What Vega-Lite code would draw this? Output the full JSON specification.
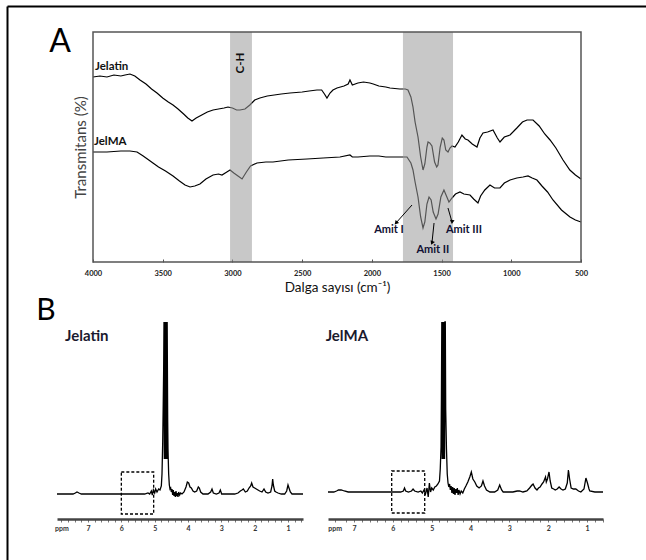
{
"$schema": "https://vega.github.io/schema/vega-lite/v6.json",
"width": 646, "height": 560, "padding": 0, "autosize": {"type": "none"},
"background": "white",
"config": {"view": {"stroke": null}, "font": "Lato", "axis": {"grid": false}},
"datasets": {
"frame": [{"fx": 0, "fy": 0}, {"fx": 1, "fy": 1}],
"ftir": [
{"sample":"Jelatin","wn":4000,"T":185},{"sample":"Jelatin","wn":3950,"T":186},{"sample":"Jelatin","wn":3900,"T":185},{"sample":"Jelatin","wn":3850,"T":187},{"sample":"Jelatin","wn":3800,"T":186},{"sample":"Jelatin","wn":3770,"T":187},{"sample":"Jelatin","wn":3735,"T":188},{"sample":"Jelatin","wn":3700,"T":186},{"sample":"Jelatin","wn":3663,"T":182},{"sample":"Jelatin","wn":3620,"T":178},{"sample":"Jelatin","wn":3580,"T":173},{"sample":"Jelatin","wn":3541,"T":169},{"sample":"Jelatin","wn":3500,"T":164},{"sample":"Jelatin","wn":3460,"T":160},{"sample":"Jelatin","wn":3426,"T":157},{"sample":"Jelatin","wn":3390,"T":153},{"sample":"Jelatin","wn":3350,"T":148},{"sample":"Jelatin","wn":3320,"T":144},{"sample":"Jelatin","wn":3290,"T":141},{"sample":"Jelatin","wn":3260,"T":144},{"sample":"Jelatin","wn":3220,"T":147},{"sample":"Jelatin","wn":3180,"T":150},{"sample":"Jelatin","wn":3139,"T":152},{"sample":"Jelatin","wn":3100,"T":153},{"sample":"Jelatin","wn":3060,"T":154},{"sample":"Jelatin","wn":3032,"T":155},{"sample":"Jelatin","wn":3000,"T":154},{"sample":"Jelatin","wn":2970,"T":152},{"sample":"Jelatin","wn":2946,"T":152},{"sample":"Jelatin","wn":2910,"T":153},{"sample":"Jelatin","wn":2875,"T":157},{"sample":"Jelatin","wn":2840,"T":162},{"sample":"Jelatin","wn":2803,"T":164},{"sample":"Jelatin","wn":2750,"T":166},{"sample":"Jelatin","wn":2700,"T":167},{"sample":"Jelatin","wn":2650,"T":168},{"sample":"Jelatin","wn":2587,"T":169},{"sample":"Jelatin","wn":2500,"T":170},{"sample":"Jelatin","wn":2450,"T":171},{"sample":"Jelatin","wn":2394,"T":172},{"sample":"Jelatin","wn":2360,"T":172},{"sample":"Jelatin","wn":2340,"T":168},{"sample":"Jelatin","wn":2322,"T":164},{"sample":"Jelatin","wn":2300,"T":169},{"sample":"Jelatin","wn":2279,"T":172},{"sample":"Jelatin","wn":2250,"T":174},{"sample":"Jelatin","wn":2200,"T":176},{"sample":"Jelatin","wn":2170,"T":178},{"sample":"Jelatin","wn":2157,"T":182},{"sample":"Jelatin","wn":2140,"T":177},{"sample":"Jelatin","wn":2100,"T":179},{"sample":"Jelatin","wn":2060,"T":180},{"sample":"Jelatin","wn":2014,"T":179},{"sample":"Jelatin","wn":1990,"T":178},{"sample":"Jelatin","wn":1950,"T":176},{"sample":"Jelatin","wn":1900,"T":175},{"sample":"Jelatin","wn":1870,"T":174},{"sample":"Jelatin","wn":1800,"T":173},{"sample":"Jelatin","wn":1760,"T":173},{"sample":"Jelatin","wn":1741,"T":172},{"sample":"Jelatin","wn":1720,"T":165},{"sample":"Jelatin","wn":1705,"T":155},{"sample":"Jelatin","wn":1690,"T":140},{"sample":"Jelatin","wn":1669,"T":125},{"sample":"Jelatin","wn":1650,"T":105},{"sample":"Jelatin","wn":1633,"T":92},{"sample":"Jelatin","wn":1620,"T":98},{"sample":"Jelatin","wn":1605,"T":115},{"sample":"Jelatin","wn":1597,"T":120},{"sample":"Jelatin","wn":1585,"T":119},{"sample":"Jelatin","wn":1569,"T":116},{"sample":"Jelatin","wn":1550,"T":100},{"sample":"Jelatin","wn":1535,"T":95},{"sample":"Jelatin","wn":1526,"T":97},{"sample":"Jelatin","wn":1510,"T":115},{"sample":"Jelatin","wn":1495,"T":124},{"sample":"Jelatin","wn":1483,"T":122},{"sample":"Jelatin","wn":1470,"T":112},{"sample":"Jelatin","wn":1454,"T":110},{"sample":"Jelatin","wn":1440,"T":114},{"sample":"Jelatin","wn":1425,"T":116},{"sample":"Jelatin","wn":1404,"T":115},{"sample":"Jelatin","wn":1380,"T":120},{"sample":"Jelatin","wn":1354,"T":127},{"sample":"Jelatin","wn":1330,"T":123},{"sample":"Jelatin","wn":1311,"T":122},{"sample":"Jelatin","wn":1280,"T":118},{"sample":"Jelatin","wn":1246,"T":115},{"sample":"Jelatin","wn":1225,"T":124},{"sample":"Jelatin","wn":1203,"T":129},{"sample":"Jelatin","wn":1170,"T":130},{"sample":"Jelatin","wn":1131,"T":132},{"sample":"Jelatin","wn":1100,"T":124},{"sample":"Jelatin","wn":1081,"T":120},{"sample":"Jelatin","wn":1050,"T":125},{"sample":"Jelatin","wn":1009,"T":127},{"sample":"Jelatin","wn":960,"T":134},{"sample":"Jelatin","wn":920,"T":140},{"sample":"Jelatin","wn":887,"T":142},{"sample":"Jelatin","wn":844,"T":142},{"sample":"Jelatin","wn":800,"T":136},{"sample":"Jelatin","wn":760,"T":128},{"sample":"Jelatin","wn":722,"T":122},{"sample":"Jelatin","wn":680,"T":114},{"sample":"Jelatin","wn":629,"T":102},{"sample":"Jelatin","wn":580,"T":92},{"sample":"Jelatin","wn":540,"T":87},{"sample":"Jelatin","wn":500,"T":83},
{"sample":"JelMA","wn":4000,"T":110},{"sample":"JelMA","wn":3900,"T":110},{"sample":"JelMA","wn":3800,"T":111},{"sample":"JelMA","wn":3735,"T":111},{"sample":"JelMA","wn":3684,"T":110},{"sample":"JelMA","wn":3640,"T":106},{"sample":"JelMA","wn":3600,"T":102},{"sample":"JelMA","wn":3570,"T":99},{"sample":"JelMA","wn":3530,"T":95},{"sample":"JelMA","wn":3480,"T":91},{"sample":"JelMA","wn":3426,"T":86},{"sample":"JelMA","wn":3380,"T":81},{"sample":"JelMA","wn":3340,"T":77},{"sample":"JelMA","wn":3304,"T":75},{"sample":"JelMA","wn":3270,"T":76},{"sample":"JelMA","wn":3233,"T":78},{"sample":"JelMA","wn":3190,"T":83},{"sample":"JelMA","wn":3139,"T":87},{"sample":"JelMA","wn":3100,"T":88},{"sample":"JelMA","wn":3075,"T":87},{"sample":"JelMA","wn":3040,"T":90},{"sample":"JelMA","wn":3017,"T":92},{"sample":"JelMA","wn":2990,"T":89},{"sample":"JelMA","wn":2960,"T":86},{"sample":"JelMA","wn":2931,"T":83},{"sample":"JelMA","wn":2900,"T":90},{"sample":"JelMA","wn":2870,"T":96},{"sample":"JelMA","wn":2824,"T":99},{"sample":"JelMA","wn":2760,"T":100},{"sample":"JelMA","wn":2709,"T":100},{"sample":"JelMA","wn":2600,"T":102},{"sample":"JelMA","wn":2465,"T":103},{"sample":"JelMA","wn":2350,"T":104},{"sample":"JelMA","wn":2229,"T":105},{"sample":"JelMA","wn":2157,"T":107},{"sample":"JelMA","wn":2140,"T":105},{"sample":"JelMA","wn":2100,"T":105},{"sample":"JelMA","wn":2014,"T":106},{"sample":"JelMA","wn":1950,"T":106},{"sample":"JelMA","wn":1900,"T":105},{"sample":"JelMA","wn":1850,"T":105},{"sample":"JelMA","wn":1800,"T":105},{"sample":"JelMA","wn":1748,"T":105},{"sample":"JelMA","wn":1720,"T":99},{"sample":"JelMA","wn":1705,"T":92},{"sample":"JelMA","wn":1690,"T":80},{"sample":"JelMA","wn":1669,"T":65},{"sample":"JelMA","wn":1650,"T":45},{"sample":"JelMA","wn":1633,"T":34},{"sample":"JelMA","wn":1620,"T":40},{"sample":"JelMA","wn":1605,"T":58},{"sample":"JelMA","wn":1590,"T":65},{"sample":"JelMA","wn":1575,"T":62},{"sample":"JelMA","wn":1560,"T":50},{"sample":"JelMA","wn":1540,"T":43},{"sample":"JelMA","wn":1525,"T":48},{"sample":"JelMA","wn":1505,"T":65},{"sample":"JelMA","wn":1483,"T":72},{"sample":"JelMA","wn":1465,"T":66},{"sample":"JelMA","wn":1447,"T":60},{"sample":"JelMA","wn":1425,"T":64},{"sample":"JelMA","wn":1400,"T":68},{"sample":"JelMA","wn":1368,"T":70},{"sample":"JelMA","wn":1340,"T":68},{"sample":"JelMA","wn":1296,"T":67},{"sample":"JelMA","wn":1270,"T":63},{"sample":"JelMA","wn":1239,"T":59},{"sample":"JelMA","wn":1220,"T":66},{"sample":"JelMA","wn":1190,"T":72},{"sample":"JelMA","wn":1153,"T":77},{"sample":"JelMA","wn":1120,"T":74},{"sample":"JelMA","wn":1081,"T":74},{"sample":"JelMA","wn":1050,"T":79},{"sample":"JelMA","wn":1009,"T":82},{"sample":"JelMA","wn":960,"T":84},{"sample":"JelMA","wn":916,"T":85},{"sample":"JelMA","wn":880,"T":86},{"sample":"JelMA","wn":850,"T":84},{"sample":"JelMA","wn":816,"T":82},{"sample":"JelMA","wn":780,"T":76},{"sample":"JelMA","wn":740,"T":70},{"sample":"JelMA","wn":701,"T":62},{"sample":"JelMA","wn":640,"T":52},{"sample":"JelMA","wn":579,"T":45},{"sample":"JelMA","wn":540,"T":42},{"sample":"JelMA","wn":500,"T":40}
],
"bands": [{"wn":3017,"wn2":2860,"T":0,"T2":230},{"wn":1777,"wn2":1418,"T":0,"T2":230}],
"boxA": [{"wn":4000,"wn2":500,"T":0,"T2":230}],
"letterA": [{"label":"A","wn":4237,"T":220}],
"sampleLabels": [{"label":"Jelatin","wn":3986,"T":195},{"label":"JelMA","wn":3993,"T":120}],
"bandLabel": [{"label":"C-H","wn":2939,"T":199}],
"amitLabels": [{"label":"Amit I","wn":1877,"T":32},{"label":"Amit II","wn":1562,"T":12},{"label":"Amit III","wn":1339,"T":32}],
"arrows": [{"head":"I","wn":1827,"T":39,"wn2":1712,"T2":57},{"head":"II","wn":1569,"T":19,"wn2":1554,"T2":39},{"head":"III","wn":1425,"T":40,"wn2":1454,"T2":54}],
"nmrJel": [
{"ppm":7.93,"I":25},{"ppm":7.6,"I":25},{"ppm":7.45,"I":25},{"ppm":7.38,"I":26},{"ppm":7.33,"I":27},{"ppm":7.27,"I":26},{"ppm":7.2,"I":25},{"ppm":6.5,"I":25},{"ppm":6.0,"I":25},{"ppm":5.5,"I":25},{"ppm":5.3,"I":25},{"ppm":5.2,"I":26},{"ppm":5.15,"I":25},{"ppm":5.1,"I":28},{"ppm":5.07,"I":24},{"ppm":5.04,"I":29},{"ppm":5.0,"I":26},{"ppm":4.97,"I":30},{"ppm":4.93,"I":27},{"ppm":4.88,"I":30},{"ppm":4.84,"I":29},{"ppm":4.8,"I":33},{"ppm":4.78,"I":45},{"ppm":4.76,"I":75},{"ppm":4.745,"I":110},{"ppm":4.73,"I":150},
{"ppm":4.72,"I":197},{"ppm":4.71,"I":60},{"ppm":4.7,"I":197},{"ppm":4.69,"I":60},{"ppm":4.68,"I":197},{"ppm":4.67,"I":60},{"ppm":4.66,"I":197},{"ppm":4.65,"I":60},{"ppm":4.64,"I":197},{"ppm":4.63,"I":60},{"ppm":4.625,"I":197},
{"ppm":4.61,"I":100},{"ppm":4.6,"I":70},{"ppm":4.58,"I":45},{"ppm":4.56,"I":34},{"ppm":4.54,"I":30},{"ppm":4.52,"I":31},{"ppm":4.5,"I":27},{"ppm":4.48,"I":30},{"ppm":4.46,"I":24},{"ppm":4.44,"I":29},{"ppm":4.42,"I":23},{"ppm":4.4,"I":27},{"ppm":4.38,"I":22},{"ppm":4.36,"I":28},{"ppm":4.34,"I":23},{"ppm":4.32,"I":26},{"ppm":4.3,"I":22},{"ppm":4.28,"I":27},{"ppm":4.25,"I":24},{"ppm":4.22,"I":26},{"ppm":4.18,"I":25},{"ppm":4.12,"I":27},{"ppm":4.06,"I":32},{"ppm":4.02,"I":37},{"ppm":3.98,"I":36},{"ppm":3.94,"I":32},{"ppm":3.9,"I":31},{"ppm":3.85,"I":28},{"ppm":3.8,"I":27},{"ppm":3.74,"I":28},{"ppm":3.69,"I":32},{"ppm":3.66,"I":31},{"ppm":3.62,"I":27},{"ppm":3.55,"I":25},{"ppm":3.4,"I":25},{"ppm":3.32,"I":27},{"ppm":3.28,"I":30},{"ppm":3.24,"I":26},{"ppm":3.15,"I":25},{"ppm":3.07,"I":26},{"ppm":3.03,"I":29},{"ppm":2.99,"I":25},{"ppm":2.8,"I":25},{"ppm":2.6,"I":25},{"ppm":2.5,"I":26},{"ppm":2.43,"I":28},{"ppm":2.38,"I":29},{"ppm":2.34,"I":30},{"ppm":2.28,"I":27},{"ppm":2.22,"I":28},{"ppm":2.17,"I":31},{"ppm":2.12,"I":33},{"ppm":2.09,"I":36},{"ppm":2.05,"I":32},{"ppm":2.0,"I":31},{"ppm":1.95,"I":30},{"ppm":1.9,"I":29},{"ppm":1.85,"I":28},{"ppm":1.78,"I":27},{"ppm":1.72,"I":30},{"ppm":1.67,"I":27},{"ppm":1.6,"I":26},{"ppm":1.52,"I":27},{"ppm":1.48,"I":33},{"ppm":1.46,"I":40},{"ppm":1.44,"I":34},{"ppm":1.4,"I":28},{"ppm":1.36,"I":27},{"ppm":1.3,"I":26},{"ppm":1.2,"I":25},{"ppm":1.1,"I":25},{"ppm":1.04,"I":28},{"ppm":1.0,"I":34},{"ppm":0.97,"I":31},{"ppm":0.93,"I":27},{"ppm":0.88,"I":25},{"ppm":0.75,"I":25},{"ppm":0.55,"I":25}
],
"nmrJelMA": [
{"ppm":7.67,"I":27},{"ppm":7.52,"I":27},{"ppm":7.45,"I":28},{"ppm":7.4,"I":29},{"ppm":7.33,"I":29},{"ppm":7.25,"I":28},{"ppm":7.15,"I":27},{"ppm":6.5,"I":27},{"ppm":6.0,"I":27},{"ppm":5.8,"I":27},{"ppm":5.73,"I":28},{"ppm":5.7,"I":31},{"ppm":5.67,"I":28},{"ppm":5.6,"I":27},{"ppm":5.52,"I":28},{"ppm":5.48,"I":30},{"ppm":5.44,"I":28},{"ppm":5.35,"I":27},{"ppm":5.28,"I":28},{"ppm":5.24,"I":26},{"ppm":5.2,"I":29},{"ppm":5.16,"I":25},{"ppm":5.12,"I":31},{"ppm":5.09,"I":22},{"ppm":5.06,"I":36},{"ppm":5.03,"I":27},{"ppm":5.0,"I":31},{"ppm":4.96,"I":29},{"ppm":4.92,"I":32},{"ppm":4.88,"I":33},{"ppm":4.84,"I":35},{"ppm":4.8,"I":38},{"ppm":4.78,"I":50},{"ppm":4.76,"I":72},{"ppm":4.75,"I":120},
{"ppm":4.74,"I":197},{"ppm":4.73,"I":60},{"ppm":4.72,"I":197},{"ppm":4.71,"I":60},{"ppm":4.7,"I":197},{"ppm":4.69,"I":60},{"ppm":4.68,"I":197},{"ppm":4.67,"I":60},{"ppm":4.66,"I":197},{"ppm":4.65,"I":197},
{"ppm":4.64,"I":110},{"ppm":4.62,"I":70},{"ppm":4.6,"I":45},{"ppm":4.58,"I":36},{"ppm":4.56,"I":32},{"ppm":4.54,"I":35},{"ppm":4.52,"I":29},{"ppm":4.5,"I":33},{"ppm":4.48,"I":26},{"ppm":4.46,"I":32},{"ppm":4.44,"I":25},{"ppm":4.42,"I":31},{"ppm":4.4,"I":24},{"ppm":4.38,"I":30},{"ppm":4.36,"I":26},{"ppm":4.34,"I":31},{"ppm":4.32,"I":24},{"ppm":4.3,"I":29},{"ppm":4.27,"I":25},{"ppm":4.24,"I":28},{"ppm":4.2,"I":26},{"ppm":4.16,"I":30},{"ppm":4.12,"I":33},{"ppm":4.07,"I":37},{"ppm":4.02,"I":42},{"ppm":3.98,"I":47},{"ppm":3.94,"I":40},{"ppm":3.89,"I":37},{"ppm":3.84,"I":33},{"ppm":3.78,"I":31},{"ppm":3.72,"I":33},{"ppm":3.68,"I":38},{"ppm":3.64,"I":33},{"ppm":3.59,"I":29},{"ppm":3.5,"I":27},{"ppm":3.38,"I":27},{"ppm":3.3,"I":29},{"ppm":3.25,"I":34},{"ppm":3.2,"I":29},{"ppm":3.16,"I":27},{"ppm":3.0,"I":27},{"ppm":2.91,"I":27},{"ppm":2.8,"I":28},{"ppm":2.74,"I":28},{"ppm":2.65,"I":27},{"ppm":2.55,"I":28},{"ppm":2.48,"I":31},{"ppm":2.42,"I":34},{"ppm":2.39,"I":35},{"ppm":2.34,"I":31},{"ppm":2.29,"I":29},{"ppm":2.25,"I":31},{"ppm":2.21,"I":32},{"ppm":2.16,"I":35},{"ppm":2.12,"I":37},{"ppm":2.09,"I":40},{"ppm":2.07,"I":42},{"ppm":2.05,"I":37},{"ppm":2.02,"I":40},{"ppm":1.98,"I":47},{"ppm":1.95,"I":38},{"ppm":1.91,"I":31},{"ppm":1.86,"I":30},{"ppm":1.82,"I":29},{"ppm":1.77,"I":30},{"ppm":1.72,"I":32},{"ppm":1.67,"I":30},{"ppm":1.62,"I":29},{"ppm":1.56,"I":30},{"ppm":1.51,"I":36},{"ppm":1.48,"I":49},{"ppm":1.45,"I":40},{"ppm":1.41,"I":31},{"ppm":1.35,"I":30},{"ppm":1.29,"I":30},{"ppm":1.22,"I":28},{"ppm":1.16,"I":27},{"ppm":1.08,"I":30},{"ppm":1.03,"I":41},{"ppm":0.99,"I":36},{"ppm":0.95,"I":30},{"ppm":0.93,"I":28},{"ppm":0.8,"I":27},{"ppm":0.59,"I":27}
],
"boxJel": [{"ppm":6.0,"ppm2":5.03,"I":5,"I2":47}],
"boxJelMA": [{"ppm":6.03,"ppm2":5.18,"I":6,"I2":48}],
"titleJel": [{"label":"Jelatin","ppm":7.69,"I":183}],
"titleJelMA": [{"label":"JelMA","ppm":7.73,"I":183}],
"letterB": [{"label":"B","ppm":8.26,"I":208}]
},
"resolve": {"scale": {"x": "independent", "y": "independent"}, "axis": {"x": "independent", "y": "independent"}},
"layer": [
{
"data": {"name": "frame"},
"mark": {"type": "point", "opacity": 0},
"encoding": {
"x": {"field": "fx", "type": "quantitative", "scale": {"domain": [0, 1], "range": [7, 646], "nice": false, "zero": false},
"axis": {"orient": "top", "offset": -6, "domain": true, "domainColor": "#000000", "domainWidth": 2, "ticks": false, "labels": false, "title": null}},
"y": {"field": "fy", "type": "quantitative", "scale": {"domain": [0, 1], "range": [560, 6], "nice": false, "zero": false},
"axis": {"orient": "left", "offset": -7, "domain": true, "domainColor": "#000000", "domainWidth": 2, "ticks": false, "labels": false, "title": null}}
}
},
{
"encoding": {
"x": {"field": "wn", "type": "quantitative", "scale": {"domain": [500, 4000], "range": [581, 93], "nice": false, "zero": false},
"axis": {"orient": "bottom", "offset": -298, "values": [500, 1000, 1500, 2000, 2500, 3000, 3500, 4000], "format": "d", "domain": false, "ticks": true, "tickSize": -3, "tickColor": "#555555", "labelFontSize": 7.5, "labelFontWeight": "bold", "labelColor": "#222222", "labelPadding": 10, "labelFlush": false, "labelOverlap": false, "title": "Dalga sayısı (cm⁻¹)", "titleFontSize": 13.5, "titleFontWeight": "normal", "titleColor": "#111111", "titlePadding": 4}},
"y": {"field": "T", "type": "quantitative", "scale": {"domain": [0, 230], "range": [262, 32], "nice": false, "zero": false},
"axis": {"orient": "left", "offset": -93, "domain": false, "ticks": false, "labels": false, "minExtent": 0, "title": "Transmitans (%)", "titleFontSize": 15, "titleFontWeight": "normal", "titleColor": "#444444", "titlePadding": 5}}
},
"layer": [
{"data": {"name": "ftir"}, "mark": {"type": "line", "color": "#000000", "strokeWidth": 1.2}, "encoding": {"detail": {"field": "sample", "type": "nominal"}}},
{"data": {"name": "bands"}, "mark": {"type": "rect", "color": "#9b9b9b", "opacity": 0.55}, "encoding": {"x2": {"field": "wn2"}, "y2": {"field": "T2"}}},
{"data": {"name": "boxA"}, "mark": {"type": "rect", "fillOpacity": 0, "stroke": "#555555", "strokeWidth": 1.5}, "encoding": {"x2": {"field": "wn2"}, "y2": {"field": "T2"}}},
{"data": {"name": "letterA"}, "mark": {"type": "text", "fontSize": 32, "align": "center", "baseline": "middle", "color": "#000000"}, "encoding": {"text": {"field": "label"}}},
{"data": {"name": "sampleLabels"}, "mark": {"type": "text", "fontSize": 11.5, "fontWeight": "bold", "align": "left", "baseline": "middle", "color": "#111111"}, "encoding": {"text": {"field": "label"}}},
{"data": {"name": "bandLabel"}, "mark": {"type": "text", "fontSize": 11.5, "fontWeight": "bold", "align": "center", "baseline": "middle", "angle": 270, "color": "#111111"}, "encoding": {"text": {"field": "label"}}},
{"data": {"name": "amitLabels"}, "mark": {"type": "text", "fontSize": 11, "fontWeight": "bold", "align": "center", "baseline": "middle", "color": "#111133"}, "encoding": {"text": {"field": "label"}}},
{"data": {"name": "arrows"}, "mark": {"type": "rule", "color": "#000000", "strokeWidth": 1}, "encoding": {"x2": {"field": "wn2"}, "y2": {"field": "T2"}}},
{"data": {"name": "arrows"}, "mark": {"type": "point", "shape": "triangle-down", "filled": true, "color": "#000000", "size": 22, "opacity": 1},
"encoding": {"angle": {"field": "head", "type": "nominal", "scale": {"domain": ["I", "II", "III"], "range": [42, 6, -16]}, "legend": null}}}
]
},
{
"encoding": {
"x": {"field": "ppm", "type": "quantitative", "scale": {"domain": [0.55, 7.93], "range": [303, 57], "nice": false, "zero": false},
"axis": {"orient": "bottom", "offset": -41, "values": [0.6,0.8,1,1.2,1.4,1.6,1.8,2,2.2,2.4,2.6,2.8,3,3.2,3.4,3.6,3.8,4,4.2,4.4,4.6,4.8,5,5.2,5.4,5.6,5.8,6,6.2,6.4,6.6,6.8,7,7.2,7.4,7.6,7.8], "labelExpr": "datum.value == 7.8 ? 'ppm' : (datum.value % 1 == 0 ? format(datum.value, 'd') : '')", "domain": true, "domainColor": "#444444", "domainWidth": 2.5, "ticks": true, "tickSize": 3, "tickColor": "#777777", "labelFontSize": 7, "labelFontWeight": "bold", "labelColor": "#333333", "labelPadding": 2, "labelFlush": false, "labelOverlap": false, "labelBound": false, "title": null}},
"y": {"field": "I", "type": "quantitative", "scale": {"domain": [0, 200], "range": [519, 319], "nice": false, "zero": false}, "axis": null}
},
"layer": [
{"data": {"name": "nmrJel"}, "mark": {"type": "line", "color": "#000000", "strokeWidth": 1.3}},
{"data": {"name": "boxJel"}, "mark": {"type": "rect", "fillOpacity": 0, "stroke": "#000000", "strokeWidth": 1.3, "strokeDash": [3, 2]}, "encoding": {"x2": {"field": "ppm2"}, "y2": {"field": "I2"}}},
{"data": {"name": "titleJel"}, "mark": {"type": "text", "fontSize": 15, "fontWeight": "bold", "align": "left", "baseline": "middle", "color": "#1a1a2e"}, "encoding": {"text": {"field": "label"}}},
{"data": {"name": "letterB"}, "mark": {"type": "text", "fontSize": 30, "align": "center", "baseline": "middle", "color": "#000000"}, "encoding": {"text": {"field": "label"}}}
]
},
{
"encoding": {
"x": {"field": "ppm", "type": "quantitative", "scale": {"domain": [0.59, 7.67], "range": [603, 328], "nice": false, "zero": false},
"axis": {"orient": "bottom", "offset": -41, "values": [0.6,0.8,1,1.2,1.4,1.6,1.8,2,2.2,2.4,2.6,2.8,3,3.2,3.4,3.6,3.8,4,4.2,4.4,4.6,4.8,5,5.2,5.4,5.6,5.8,6,6.2,6.4,6.6,6.8,7,7.2,7.5], "labelExpr": "datum.value == 7.5 ? 'ppm' : (datum.value % 1 == 0 ? format(datum.value, 'd') : '')", "domain": true, "domainColor": "#444444", "domainWidth": 2.5, "ticks": true, "tickSize": 3, "tickColor": "#777777", "labelFontSize": 7, "labelFontWeight": "bold", "labelColor": "#333333", "labelPadding": 2, "labelFlush": false, "labelOverlap": false, "labelBound": false, "title": null}},
"y": {"field": "I", "type": "quantitative", "scale": {"domain": [0, 200], "range": [519, 319], "nice": false, "zero": false}, "axis": null}
},
"layer": [
{"data": {"name": "nmrJelMA"}, "mark": {"type": "line", "color": "#000000", "strokeWidth": 1.3}},
{"data": {"name": "boxJelMA"}, "mark": {"type": "rect", "fillOpacity": 0, "stroke": "#000000", "strokeWidth": 1.3, "strokeDash": [3, 2]}, "encoding": {"x2": {"field": "ppm2"}, "y2": {"field": "I2"}}},
{"data": {"name": "titleJelMA"}, "mark": {"type": "text", "fontSize": 15, "fontWeight": "bold", "align": "left", "baseline": "middle", "color": "#1a1a2e"}, "encoding": {"text": {"field": "label"}}}
]
}
]
}
